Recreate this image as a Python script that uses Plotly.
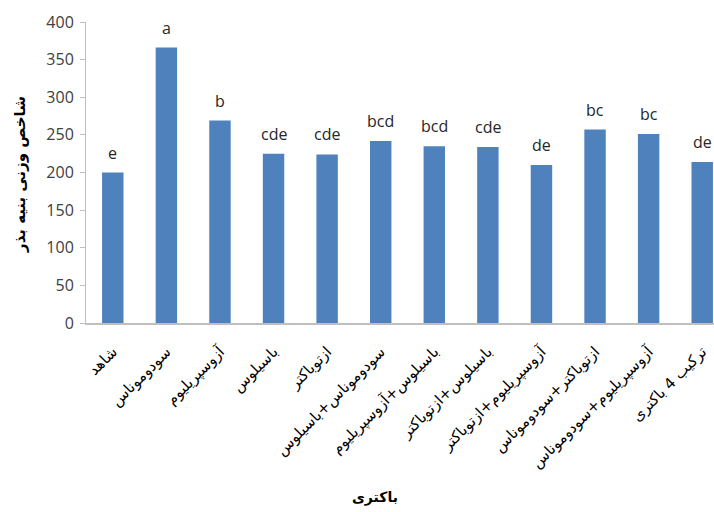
import plotly.graph_objects as go

# Treatments (bacteria inoculations)
categories = [
    "شاهد",
    "سودوموناس",
    "آزوسپریلیوم",
    "باسیلوس",
    "ازتوباکتر",
    "سودوموناس+باسیلوس",
    "باسیلوس+آزوسپریلیوم",
    "باسیلوس+ازتوباکتر",
    "آزوسپریلیوم+ازتوباکتر",
    "ازتوباکتر+سودوموناس",
    "آزوسپریلیوم+سودوموناس",
    "ترکیب 4 باکتری",
]
vigor_index = [200, 366, 269, 225, 224, 242, 235, 234, 210, 257, 251, 214]
letters = ["e", "a", "b", "cde", "cde", "bcd", "bcd", "cde", "de", "bc", "bc", "de"]
y_ticks = [0, 50, 100, 150, 200, 250, 300, 350, 400]

BAR_COLOR = "#4F81BD"
AXIS_GREY = "#BFBFBF"
TICK_FONT = "Open Sans, Liberation Sans, sans-serif"
ARABIC_FONT = "DejaVu Sans, sans-serif"

x_idx = list(range(len(categories)))

fig = go.Figure(
    go.Bar(
        x=x_idx,
        y=vigor_index,
        width=0.4,
        marker=dict(color=BAR_COLOR, line=dict(width=0)),
        hoverinfo="skip",
    )
)

# significance letters above each bar
for xi, v, lab in zip(x_idx, vigor_index, letters):
    fig.add_annotation(
        x=xi, y=v, text=lab, showarrow=False,
        yanchor="bottom", yshift=7,
        font=dict(family=TICK_FONT, size=16, color="#262626"),
    )

# axis titles
fig.add_annotation(
    xref="paper", yref="paper", x=(20 - 86) / 628, y=(323 - 175) / 301,
    text="<b>شاخص وزنی بنیه بذر</b>", textangle=-90, showarrow=False,
    xanchor="center", yanchor="middle",
    font=dict(family=ARABIC_FONT, size=15, color="#000000"),
)
fig.add_annotation(
    xref="paper", yref="paper", x=(375 - 86) / 628, y=(323 - 497) / 301,
    text="<b>باکتری</b>", showarrow=False,
    xanchor="center", yanchor="middle",
    font=dict(family=ARABIC_FONT, size=14, color="#000000"),
)

fig.update_layout(
    width=714,
    height=512,
    margin=dict(l=86, r=0, t=22, b=189),
    paper_bgcolor="white",
    plot_bgcolor="white",
    showlegend=False,
)
fig.update_xaxes(
    range=[-0.5, 11.22],
    tickmode="array",
    tickvals=x_idx,
    ticktext=categories,
    tickangle=-45,
    ticklabelstandoff=12,
    tickfont=dict(family=ARABIC_FONT, size=15, color="#000000"),
    showline=True,
    linecolor=AXIS_GREY,
    linewidth=2,
    ticks="",
    showgrid=False,
    zeroline=False,
    fixedrange=True,
)
fig.update_yaxes(
    range=[0, 400],
    tickmode="array",
    tickvals=y_ticks,
    ticks="outside",
    ticklen=5,
    tickcolor=AXIS_GREY,
    ticklabelstandoff=3,
    tickfont=dict(family=TICK_FONT, size=16, color="#404040"),
    showline=True,
    linecolor=AXIS_GREY,
    linewidth=1,
    showgrid=False,
    zeroline=False,
    fixedrange=True,
)

fig.write_html("out.html")
